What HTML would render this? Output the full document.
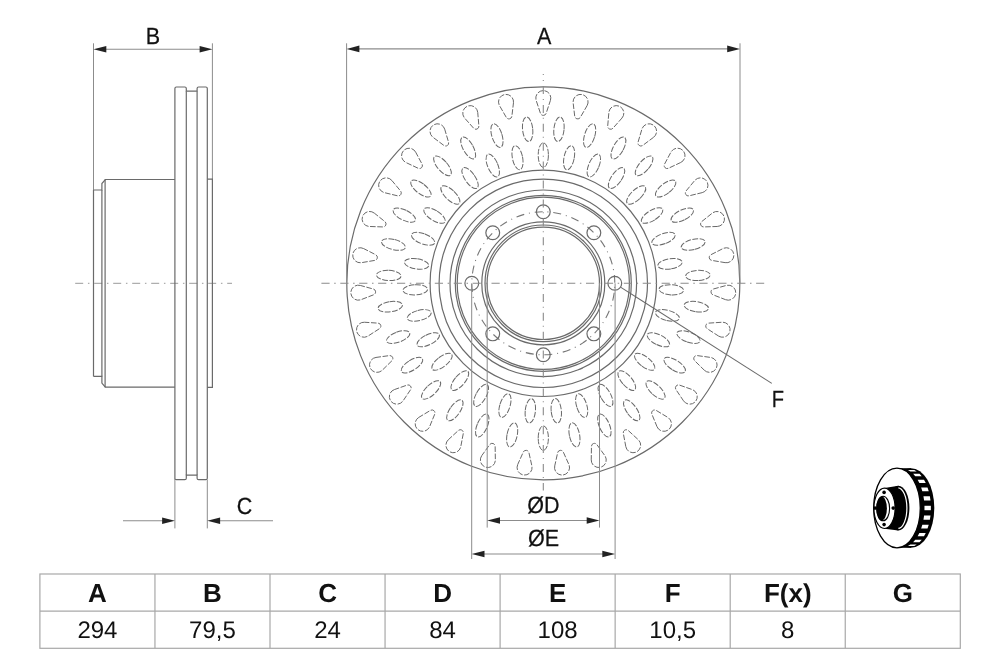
<!DOCTYPE html>
<html><head><meta charset="utf-8"><style>
html,body{margin:0;padding:0;background:#fff;width:1000px;height:666px;overflow:hidden}
svg{display:block}
text{font-family:"Liberation Sans",sans-serif}
</style></head><body>
<svg width="1000" height="666" viewBox="0 0 1000 666" text-rendering="geometricPrecision">
<rect width="1000" height="666" fill="#fff"/>
<g opacity="0.999"><line x1="75.2" y1="283.3" x2="232" y2="283.3" stroke="#9a9a9a" stroke-width="1.0" stroke-dasharray="8 4.75 1.5 4.75"/><line x1="93.5" y1="43.3" x2="93.5" y2="190" stroke="#8c8c8c" stroke-width="1.0" /><line x1="212.4" y1="43.3" x2="212.4" y2="179.2" stroke="#8c8c8c" stroke-width="1.0" /><line x1="100" y1="49.2" x2="206" y2="49.2" stroke="#8c8c8c" stroke-width="1.1" /><path d="M93.5,49.2 L106.3,45.9 L106.3,52.5 Z" fill="#222"/><path d="M212.4,49.2 L199.6,52.5 L199.6,45.9 Z" fill="#222"/><path d="M93.5,190 H101.9 V183.5 L105.3,179.5 H174.9" fill="none" stroke="#6a6a6a" stroke-width="1.2"/><path d="M93.5,376.4 H101.9 V383.1 L105.3,387.2 H174.9" fill="none" stroke="#6a6a6a" stroke-width="1.2"/><line x1="93.5" y1="190" x2="93.5" y2="376.4" stroke="#6a6a6a" stroke-width="1.2" /><line x1="101.9" y1="190" x2="101.9" y2="376.4" stroke="#6a6a6a" stroke-width="1.2" /><line x1="105.1" y1="179.5" x2="105.1" y2="387.2" stroke="#6a6a6a" stroke-width="1.2" /><path d="M174.9,479.7 V88.5 Q174.9,87 176.4,87 H184.8 Q186.3,87 186.3,88.5 V91.2 H197.1 V88.5 Q197.1,87 198.6,87 H205.8 Q207.3,87 207.3,88.5 V478.2 Q207.3,479.7 205.8,479.7 H198.6 Q197.1,479.7 197.1,478.2 V475.2 H186.3 V478.2 Q186.3,479.7 184.8,479.7 H176.4 Q174.9,479.7 174.9,478.2 Z" fill="none" stroke="#6a6a6a" stroke-width="1.2"/><line x1="186.3" y1="91.2" x2="186.3" y2="475.2" stroke="#6a6a6a" stroke-width="1.2" /><line x1="197.1" y1="91.2" x2="197.1" y2="475.2" stroke="#6a6a6a" stroke-width="1.2" /><path d="M207.3,179.2 H212.4 V387.4 H207.3" fill="none" stroke="#6a6a6a" stroke-width="1.2"/><line x1="174.9" y1="479.7" x2="174.9" y2="528.4" stroke="#8c8c8c" stroke-width="1.0" /><line x1="207.3" y1="479.7" x2="207.3" y2="528.4" stroke="#8c8c8c" stroke-width="1.0" /><line x1="123" y1="520.8" x2="165" y2="520.8" stroke="#8c8c8c" stroke-width="1.1" /><line x1="217" y1="520.8" x2="273" y2="520.8" stroke="#8c8c8c" stroke-width="1.1" /><path d="M174.9,520.8 L162.1,524.1 L162.1,517.5 Z" fill="#222"/><path d="M207.3,520.8 L220.1,517.5 L220.1,524.1 Z" fill="#222"/><g fill="none" stroke="#686868" stroke-width="1.0" stroke-dasharray="5.6 1.6"><path d="M550.42,100.46 A7.5,7.5 0 1 0 536.18,100.46 L540.45,113.34 A3.0,3.0 0 0 0 546.15,113.34 Z"/><path d="M587.08,105.64 A7.5,7.5 0 1 0 573.13,102.77 L574.72,116.25 A3.0,3.0 0 0 0 580.3,117.4 Z"/><path d="M621.95,118.09 A7.5,7.5 0 1 0 608.86,112.47 L607.71,125.99 A3.0,3.0 0 0 0 612.94,128.24 Z"/><path d="M653.59,137.3 A7.5,7.5 0 1 0 641.91,129.16 L638.05,142.18 A3.0,3.0 0 0 0 642.73,145.43 Z"/><path d="M680.73,162.49 A7.5,7.5 0 1 0 670.92,152.17 L664.52,164.14 A3.0,3.0 0 0 0 668.44,168.27 Z"/><path d="M702.23,192.63 A7.5,7.5 0 1 0 694.7,180.54 L686.03,190.98 A3.0,3.0 0 0 0 689.04,195.82 Z"/><path d="M717.23,226.47 A7.5,7.5 0 1 0 712.29,213.12 L701.69,221.6 A3.0,3.0 0 0 0 703.67,226.94 Z"/><path d="M725.11,262.65 A7.5,7.5 0 1 0 722.95,248.58 L710.86,254.75 A3.0,3.0 0 0 0 711.73,260.38 Z"/><path d="M725.54,299.67 A7.5,7.5 0 1 0 726.27,285.45 L713.18,289.06 A3.0,3.0 0 0 0 712.89,294.75 Z"/><path d="M718.52,336.02 A7.5,7.5 0 1 0 722.09,322.24 L708.54,323.14 A3.0,3.0 0 0 0 707.12,328.66 Z"/><path d="M704.32,370.21 A7.5,7.5 0 1 0 710.59,357.43 L697.14,355.59 A3.0,3.0 0 0 0 694.63,360.7 Z"/><path d="M683.53,400.85 A7.5,7.5 0 1 0 692.24,389.59 L679.44,385.08 A3.0,3.0 0 0 0 675.95,389.58 Z"/><path d="M657,426.67 A7.5,7.5 0 1 0 667.8,417.39 L656.17,410.4 A3.0,3.0 0 0 0 651.84,414.11 Z"/><path d="M625.81,446.62 A7.5,7.5 0 1 0 638.26,439.71 L628.27,430.52 A3.0,3.0 0 0 0 623.29,433.28 Z"/><path d="M591.24,459.89 A7.5,7.5 0 1 0 604.83,455.62 L596.9,444.61 A3.0,3.0 0 0 0 591.46,446.31 Z"/><path d="M554.72,465.92 A7.5,7.5 0 1 0 568.88,464.48 L563.33,452.1 A3.0,3.0 0 0 0 557.66,452.67 Z"/><path d="M517.72,464.48 A7.5,7.5 0 1 0 531.88,465.92 L528.94,452.67 A3.0,3.0 0 0 0 523.27,452.1 Z"/><path d="M481.77,455.62 A7.5,7.5 0 1 0 495.36,459.89 L495.14,446.31 A3.0,3.0 0 0 0 489.7,444.61 Z"/><path d="M448.34,439.71 A7.5,7.5 0 1 0 460.79,446.62 L463.31,433.28 A3.0,3.0 0 0 0 458.33,430.52 Z"/><path d="M418.8,417.39 A7.5,7.5 0 1 0 429.6,426.67 L434.76,414.11 A3.0,3.0 0 0 0 430.43,410.4 Z"/><path d="M394.36,389.59 A7.5,7.5 0 1 0 403.07,400.85 L410.65,389.58 A3.0,3.0 0 0 0 407.16,385.08 Z"/><path d="M376.01,357.43 A7.5,7.5 0 1 0 382.28,370.21 L391.97,360.7 A3.0,3.0 0 0 0 389.46,355.59 Z"/><path d="M364.51,322.24 A7.5,7.5 0 1 0 368.08,336.02 L379.48,328.66 A3.0,3.0 0 0 0 378.06,323.14 Z"/><path d="M360.33,285.45 A7.5,7.5 0 1 0 361.06,299.67 L373.71,294.75 A3.0,3.0 0 0 0 373.42,289.06 Z"/><path d="M363.65,248.58 A7.5,7.5 0 1 0 361.49,262.65 L374.87,260.38 A3.0,3.0 0 0 0 375.74,254.75 Z"/><path d="M374.31,213.12 A7.5,7.5 0 1 0 369.37,226.47 L382.93,226.94 A3.0,3.0 0 0 0 384.91,221.6 Z"/><path d="M391.9,180.54 A7.5,7.5 0 1 0 384.37,192.63 L397.56,195.82 A3.0,3.0 0 0 0 400.57,190.98 Z"/><path d="M415.68,152.17 A7.5,7.5 0 1 0 405.87,162.49 L418.16,168.27 A3.0,3.0 0 0 0 422.08,164.14 Z"/><path d="M444.69,129.16 A7.5,7.5 0 1 0 433.01,137.3 L443.87,145.43 A3.0,3.0 0 0 0 448.55,142.18 Z"/><path d="M477.74,112.47 A7.5,7.5 0 1 0 464.65,118.09 L473.66,128.24 A3.0,3.0 0 0 0 478.89,125.99 Z"/><path d="M513.47,102.77 A7.5,7.5 0 1 0 499.52,105.64 L506.3,117.4 A3.0,3.0 0 0 0 511.88,116.25 Z"/><ellipse cx="558.96" cy="129.29" rx="5.1" ry="12.3" transform="rotate(5.81 558.96 129.29)"/><ellipse cx="589.64" cy="135.6" rx="5.1" ry="12.3" transform="rotate(17.42 589.64 135.6)"/><ellipse cx="618.42" cy="147.95" rx="5.1" ry="12.3" transform="rotate(29.03 618.42 147.95)"/><ellipse cx="644.13" cy="165.84" rx="5.1" ry="12.3" transform="rotate(40.65 644.13 165.84)"/><ellipse cx="665.71" cy="188.55" rx="5.1" ry="12.3" transform="rotate(52.26 665.71 188.55)"/><ellipse cx="682.28" cy="215.13" rx="5.1" ry="12.3" transform="rotate(63.87 682.28 215.13)"/><ellipse cx="693.16" cy="244.5" rx="5.1" ry="12.3" transform="rotate(75.48 693.16 244.5)"/><ellipse cx="697.9" cy="275.46" rx="5.1" ry="12.3" transform="rotate(87.1 697.9 275.46)"/><ellipse cx="696.31" cy="306.74" rx="5.1" ry="12.3" transform="rotate(98.71 696.31 306.74)"/><ellipse cx="688.46" cy="337.06" rx="5.1" ry="12.3" transform="rotate(110.32 688.46 337.06)"/><ellipse cx="674.67" cy="365.18" rx="5.1" ry="12.3" transform="rotate(121.94 674.67 365.18)"/><ellipse cx="655.5" cy="389.95" rx="5.1" ry="12.3" transform="rotate(133.55 655.5 389.95)"/><ellipse cx="631.73" cy="410.35" rx="5.1" ry="12.3" transform="rotate(145.16 631.73 410.35)"/><ellipse cx="604.35" cy="425.55" rx="5.1" ry="12.3" transform="rotate(156.77 604.35 425.55)"/><ellipse cx="574.46" cy="434.93" rx="5.1" ry="12.3" transform="rotate(168.39 574.46 434.93)"/><ellipse cx="543.3" cy="438.1" rx="5.1" ry="12.3" transform="rotate(180 543.3 438.1)"/><ellipse cx="512.14" cy="434.93" rx="5.1" ry="12.3" transform="rotate(191.61 512.14 434.93)"/><ellipse cx="482.25" cy="425.55" rx="5.1" ry="12.3" transform="rotate(203.23 482.25 425.55)"/><ellipse cx="454.87" cy="410.35" rx="5.1" ry="12.3" transform="rotate(214.84 454.87 410.35)"/><ellipse cx="431.1" cy="389.95" rx="5.1" ry="12.3" transform="rotate(226.45 431.1 389.95)"/><ellipse cx="411.93" cy="365.18" rx="5.1" ry="12.3" transform="rotate(238.06 411.93 365.18)"/><ellipse cx="398.14" cy="337.06" rx="5.1" ry="12.3" transform="rotate(249.68 398.14 337.06)"/><ellipse cx="390.29" cy="306.74" rx="5.1" ry="12.3" transform="rotate(261.29 390.29 306.74)"/><ellipse cx="388.7" cy="275.46" rx="5.1" ry="12.3" transform="rotate(272.9 388.7 275.46)"/><ellipse cx="393.44" cy="244.5" rx="5.1" ry="12.3" transform="rotate(284.52 393.44 244.5)"/><ellipse cx="404.32" cy="215.13" rx="5.1" ry="12.3" transform="rotate(296.13 404.32 215.13)"/><ellipse cx="420.89" cy="188.55" rx="5.1" ry="12.3" transform="rotate(307.74 420.89 188.55)"/><ellipse cx="442.47" cy="165.84" rx="5.1" ry="12.3" transform="rotate(319.35 442.47 165.84)"/><ellipse cx="468.18" cy="147.95" rx="5.1" ry="12.3" transform="rotate(330.97 468.18 147.95)"/><ellipse cx="496.96" cy="135.6" rx="5.1" ry="12.3" transform="rotate(342.58 496.96 135.6)"/><ellipse cx="527.64" cy="129.29" rx="5.1" ry="12.3" transform="rotate(354.19 527.64 129.29)"/><ellipse cx="543.3" cy="155.1" rx="5.1" ry="12.3" transform="rotate(0 543.3 155.1)"/><ellipse cx="569.11" cy="157.72" rx="5.1" ry="12.3" transform="rotate(11.61 569.11 157.72)"/><ellipse cx="593.86" cy="165.49" rx="5.1" ry="12.3" transform="rotate(23.23 593.86 165.49)"/><ellipse cx="616.54" cy="178.08" rx="5.1" ry="12.3" transform="rotate(34.84 616.54 178.08)"/><ellipse cx="636.22" cy="194.97" rx="5.1" ry="12.3" transform="rotate(46.45 636.22 194.97)"/><ellipse cx="652.1" cy="215.49" rx="5.1" ry="12.3" transform="rotate(58.06 652.1 215.49)"/><ellipse cx="663.52" cy="238.78" rx="5.1" ry="12.3" transform="rotate(69.68 663.52 238.78)"/><ellipse cx="670.02" cy="263.89" rx="5.1" ry="12.3" transform="rotate(81.29 670.02 263.89)"/><ellipse cx="671.34" cy="289.79" rx="5.1" ry="12.3" transform="rotate(92.9 671.34 289.79)"/><ellipse cx="667.41" cy="315.43" rx="5.1" ry="12.3" transform="rotate(104.52 667.41 315.43)"/><ellipse cx="658.4" cy="339.76" rx="5.1" ry="12.3" transform="rotate(116.13 658.4 339.76)"/><ellipse cx="644.68" cy="361.77" rx="5.1" ry="12.3" transform="rotate(127.74 644.68 361.77)"/><ellipse cx="626.81" cy="380.57" rx="5.1" ry="12.3" transform="rotate(139.35 626.81 380.57)"/><ellipse cx="605.52" cy="395.39" rx="5.1" ry="12.3" transform="rotate(150.97 605.52 395.39)"/><ellipse cx="581.68" cy="405.62" rx="5.1" ry="12.3" transform="rotate(162.58 581.68 405.62)"/><ellipse cx="556.27" cy="410.84" rx="5.1" ry="12.3" transform="rotate(174.19 556.27 410.84)"/><ellipse cx="530.33" cy="410.84" rx="5.1" ry="12.3" transform="rotate(185.81 530.33 410.84)"/><ellipse cx="504.92" cy="405.62" rx="5.1" ry="12.3" transform="rotate(197.42 504.92 405.62)"/><ellipse cx="481.08" cy="395.39" rx="5.1" ry="12.3" transform="rotate(209.03 481.08 395.39)"/><ellipse cx="459.79" cy="380.57" rx="5.1" ry="12.3" transform="rotate(220.65 459.79 380.57)"/><ellipse cx="441.92" cy="361.77" rx="5.1" ry="12.3" transform="rotate(232.26 441.92 361.77)"/><ellipse cx="428.2" cy="339.76" rx="5.1" ry="12.3" transform="rotate(243.87 428.2 339.76)"/><ellipse cx="419.19" cy="315.43" rx="5.1" ry="12.3" transform="rotate(255.48 419.19 315.43)"/><ellipse cx="415.26" cy="289.79" rx="5.1" ry="12.3" transform="rotate(267.1 415.26 289.79)"/><ellipse cx="416.58" cy="263.89" rx="5.1" ry="12.3" transform="rotate(278.71 416.58 263.89)"/><ellipse cx="423.08" cy="238.78" rx="5.1" ry="12.3" transform="rotate(290.32 423.08 238.78)"/><ellipse cx="434.5" cy="215.49" rx="5.1" ry="12.3" transform="rotate(301.94 434.5 215.49)"/><ellipse cx="450.38" cy="194.97" rx="5.1" ry="12.3" transform="rotate(313.55 450.38 194.97)"/><ellipse cx="470.06" cy="178.08" rx="5.1" ry="12.3" transform="rotate(325.16 470.06 178.08)"/><ellipse cx="492.74" cy="165.49" rx="5.1" ry="12.3" transform="rotate(336.77 492.74 165.49)"/><ellipse cx="517.49" cy="157.72" rx="5.1" ry="12.3" transform="rotate(348.39 517.49 157.72)"/></g><g fill="none" stroke="#6a6a6a" stroke-width="1.2"><circle cx="543.3" cy="283.3" r="196.5"/><circle cx="543.3" cy="283.3" r="113.2"/><circle cx="543.3" cy="283.3" r="104.2"/><circle cx="543.3" cy="283.3" r="93.3"/><circle cx="543.3" cy="283.3" r="88.0"/><circle cx="543.3" cy="283.3" r="86.1"/><circle cx="543.3" cy="283.3" r="61.5"/><circle cx="543.3" cy="283.3" r="58.3"/><circle cx="543.3" cy="283.3" r="56.2"/></g><circle cx="543.3" cy="283.3" r="71.5" fill="none" stroke="#777" stroke-width="1.1" stroke-dasharray="8 4.86 1 4.86" stroke-dashoffset="-9.5"/><g fill="none" stroke="#6a6a6a" stroke-width="1.2"><circle cx="543.3" cy="211.8" r="6.9"/><circle cx="593.86" cy="232.74" r="6.9"/><circle cx="614.8" cy="283.3" r="6.9"/><circle cx="593.86" cy="333.86" r="6.9"/><circle cx="543.3" cy="354.8" r="6.9"/><circle cx="492.74" cy="333.86" r="6.9"/><circle cx="471.8" cy="283.3" r="6.9"/><circle cx="492.74" cy="232.74" r="6.9"/></g><line x1="321.4" y1="283.3" x2="764.2" y2="283.3" stroke="#8a8a8a" stroke-width="1.1" stroke-dasharray="8.2 4.6 1.5 4.6"/><line x1="543.3" y1="74.1" x2="543.3" y2="490.6" stroke="#8a8a8a" stroke-width="1.1" stroke-dasharray="8 4.95 1 4.95" stroke-dashoffset="7"/><line x1="346.6" y1="43.3" x2="346.6" y2="283.3" stroke="#8c8c8c" stroke-width="1.0" /><line x1="740" y1="43.3" x2="740" y2="283.3" stroke="#8c8c8c" stroke-width="1.0" /><line x1="355" y1="48.9" x2="732" y2="48.9" stroke="#8c8c8c" stroke-width="1.1" /><path d="M346.6,48.9 L359.4,45.6 L359.4,52.2 Z" fill="#222"/><path d="M740,48.9 L727.2,52.2 L727.2,45.6 Z" fill="#222"/><line x1="487.2" y1="283.3" x2="487.2" y2="527.6" stroke="#8c8c8c" stroke-width="1.0" /><line x1="599.5" y1="283.3" x2="599.5" y2="527.6" stroke="#8c8c8c" stroke-width="1.0" /><line x1="495" y1="520.5" x2="592" y2="520.5" stroke="#8c8c8c" stroke-width="1.1" /><path d="M487.2,520.5 L500,517.2 L500,523.8 Z" fill="#222"/><path d="M599.5,520.5 L586.7,523.8 L586.7,517.2 Z" fill="#222"/><line x1="471.7" y1="283.3" x2="471.7" y2="559" stroke="#8c8c8c" stroke-width="1.0" /><line x1="615.1" y1="283.3" x2="615.1" y2="559" stroke="#8c8c8c" stroke-width="1.0" /><line x1="480" y1="554" x2="607" y2="554" stroke="#8c8c8c" stroke-width="1.1" /><path d="M471.7,554 L484.5,550.7 L484.5,557.3 Z" fill="#222"/><path d="M615.1,554 L602.3,557.3 L602.3,550.7 Z" fill="#222"/><line x1="620.5" y1="287.1" x2="771.8" y2="383.4" stroke="#6a6a6a" stroke-width="1.1" /><text x="0" y="0" transform="translate(152.9,43.6) scale(0.92,1)" font-size="23.4" text-anchor="middle" font-weight="normal" fill="#111" stroke="#111" stroke-width="0.25">B</text><text x="0" y="0" transform="translate(544.05,43.7) scale(0.92,1)" font-size="23.4" text-anchor="middle" font-weight="normal" fill="#111" stroke="#111" stroke-width="0.25">A</text><text x="0" y="0" transform="translate(244.6,514) scale(0.92,1)" font-size="23.4" text-anchor="middle" font-weight="normal" fill="#111" stroke="#111" stroke-width="0.25">C</text><text x="0" y="0" transform="translate(543.5,513.1) scale(0.92,1)" font-size="23.4" text-anchor="middle" font-weight="normal" fill="#111" stroke="#111" stroke-width="0.25">ØD</text><text x="0" y="0" transform="translate(543.6,546.2) scale(0.92,1)" font-size="23.4" text-anchor="middle" font-weight="normal" fill="#111" stroke="#111" stroke-width="0.25">ØE</text><text x="0" y="0" transform="translate(777.85,407.1) scale(0.86,1)" font-size="23.4" text-anchor="middle" font-weight="normal" fill="#111" stroke="#111" stroke-width="0.25">F</text><g><ellipse cx="911" cy="508" rx="23.3" ry="39.8" fill="#000"/><rect x="897" y="468.2" width="14" height="79.6" fill="#000"/><ellipse cx="897" cy="508" rx="23.3" ry="39.8" fill="#fff" stroke="#000" stroke-width="1.3"/><polygon points="907.93,469.9 914.33,469.9 916.78,471.42 910.38,471.42" fill="#fff"/><polygon points="913.13,473.81 919.53,473.81 921.69,476.3 915.29,476.3" fill="#fff"/><polygon points="917.62,479.76 924.02,479.76 925.76,483.06 919.36,483.06" fill="#fff"/><polygon points="921.13,487.38 927.53,487.38 928.75,491.31 922.35,491.31" fill="#fff"/><polygon points="923.46,496.23 929.86,496.23 930.49,500.54 924.09,500.54" fill="#fff"/><polygon points="924.46,505.78 930.86,505.78 930.86,510.22 924.46,510.22" fill="#fff"/><polygon points="924.09,515.46 930.49,515.46 929.86,519.77 923.46,519.77" fill="#fff"/><polygon points="922.35,524.69 928.75,524.69 927.53,528.62 921.13,528.62" fill="#fff"/><polygon points="919.36,532.94 925.76,532.94 924.02,536.24 917.62,536.24" fill="#fff"/><polygon points="915.29,539.7 921.69,539.7 919.53,542.19 913.13,542.19" fill="#fff"/><polygon points="910.38,544.58 916.78,544.58 914.33,546.1 907.93,546.1" fill="#fff"/><ellipse cx="898.4" cy="508.1" rx="11" ry="22.3" fill="#000"/><ellipse cx="898.0" cy="508.1" rx="8.9" ry="20.3" fill="none" stroke="#fff" stroke-width="1.2"/><path d="M884.5,487.9 L898.4,485.8 L898.4,530.4 L884.5,528.7 Z" fill="#000"/><ellipse cx="887.6" cy="508.1" rx="9.4" ry="20.2" fill="#000"/><ellipse cx="884.5" cy="508.3" rx="10.6" ry="20.2" fill="#fff" stroke="#000" stroke-width="1.2"/><ellipse cx="883.1" cy="508.5" rx="6.5" ry="12.2" fill="#fff" stroke="#000" stroke-width="1.1"/><ellipse cx="881.7" cy="508.5" rx="5.2" ry="11.9" fill="#000"/><circle cx="884.1" cy="492.4" r="1.8" fill="#000"/><circle cx="893.2" cy="508.1" r="1.8" fill="#000"/><circle cx="884.1" cy="524.6" r="1.8" fill="#000"/><circle cx="875" cy="508.1" r="1.8" fill="#000"/></g><rect x="39.9" y="574.0" width="920.4" height="74.3" fill="none" stroke="#a8a8a8" stroke-width="1.2"/><line x1="39.9" y1="611.2" x2="960.3" y2="611.2" stroke="#a8a8a8" stroke-width="1.2"/><line x1="154.95" y1="574.0" x2="154.95" y2="648.3" stroke="#a8a8a8" stroke-width="1.2"/><line x1="270" y1="574.0" x2="270" y2="648.3" stroke="#a8a8a8" stroke-width="1.2"/><line x1="385.05" y1="574.0" x2="385.05" y2="648.3" stroke="#a8a8a8" stroke-width="1.2"/><line x1="500.1" y1="574.0" x2="500.1" y2="648.3" stroke="#a8a8a8" stroke-width="1.2"/><line x1="615.15" y1="574.0" x2="615.15" y2="648.3" stroke="#a8a8a8" stroke-width="1.2"/><line x1="730.2" y1="574.0" x2="730.2" y2="648.3" stroke="#a8a8a8" stroke-width="1.2"/><line x1="845.25" y1="574.0" x2="845.25" y2="648.3" stroke="#a8a8a8" stroke-width="1.2"/><text x="97.42" y="601.6" font-size="26" font-weight="bold" text-anchor="middle" fill="#111">A</text><text x="97.42" y="638.2" font-size="24" text-anchor="middle" fill="#111">294</text><text x="212.47" y="601.6" font-size="26" font-weight="bold" text-anchor="middle" fill="#111">B</text><text x="212.47" y="638.2" font-size="24" text-anchor="middle" fill="#111">79,5</text><text x="327.52" y="601.6" font-size="26" font-weight="bold" text-anchor="middle" fill="#111">C</text><text x="327.52" y="638.2" font-size="24" text-anchor="middle" fill="#111">24</text><text x="442.57" y="601.6" font-size="26" font-weight="bold" text-anchor="middle" fill="#111">D</text><text x="442.57" y="638.2" font-size="24" text-anchor="middle" fill="#111">84</text><text x="557.62" y="601.6" font-size="26" font-weight="bold" text-anchor="middle" fill="#111">E</text><text x="557.62" y="638.2" font-size="24" text-anchor="middle" fill="#111">108</text><text x="672.67" y="601.6" font-size="26" font-weight="bold" text-anchor="middle" fill="#111">F</text><text x="672.67" y="638.2" font-size="24" text-anchor="middle" fill="#111">10,5</text><text x="787.72" y="601.6" font-size="26" font-weight="bold" text-anchor="middle" fill="#111">F(x)</text><text x="787.72" y="638.2" font-size="24" text-anchor="middle" fill="#111">8</text><text x="902.77" y="601.6" font-size="26" font-weight="bold" text-anchor="middle" fill="#111">G</text></g>
</svg>
</body></html>
